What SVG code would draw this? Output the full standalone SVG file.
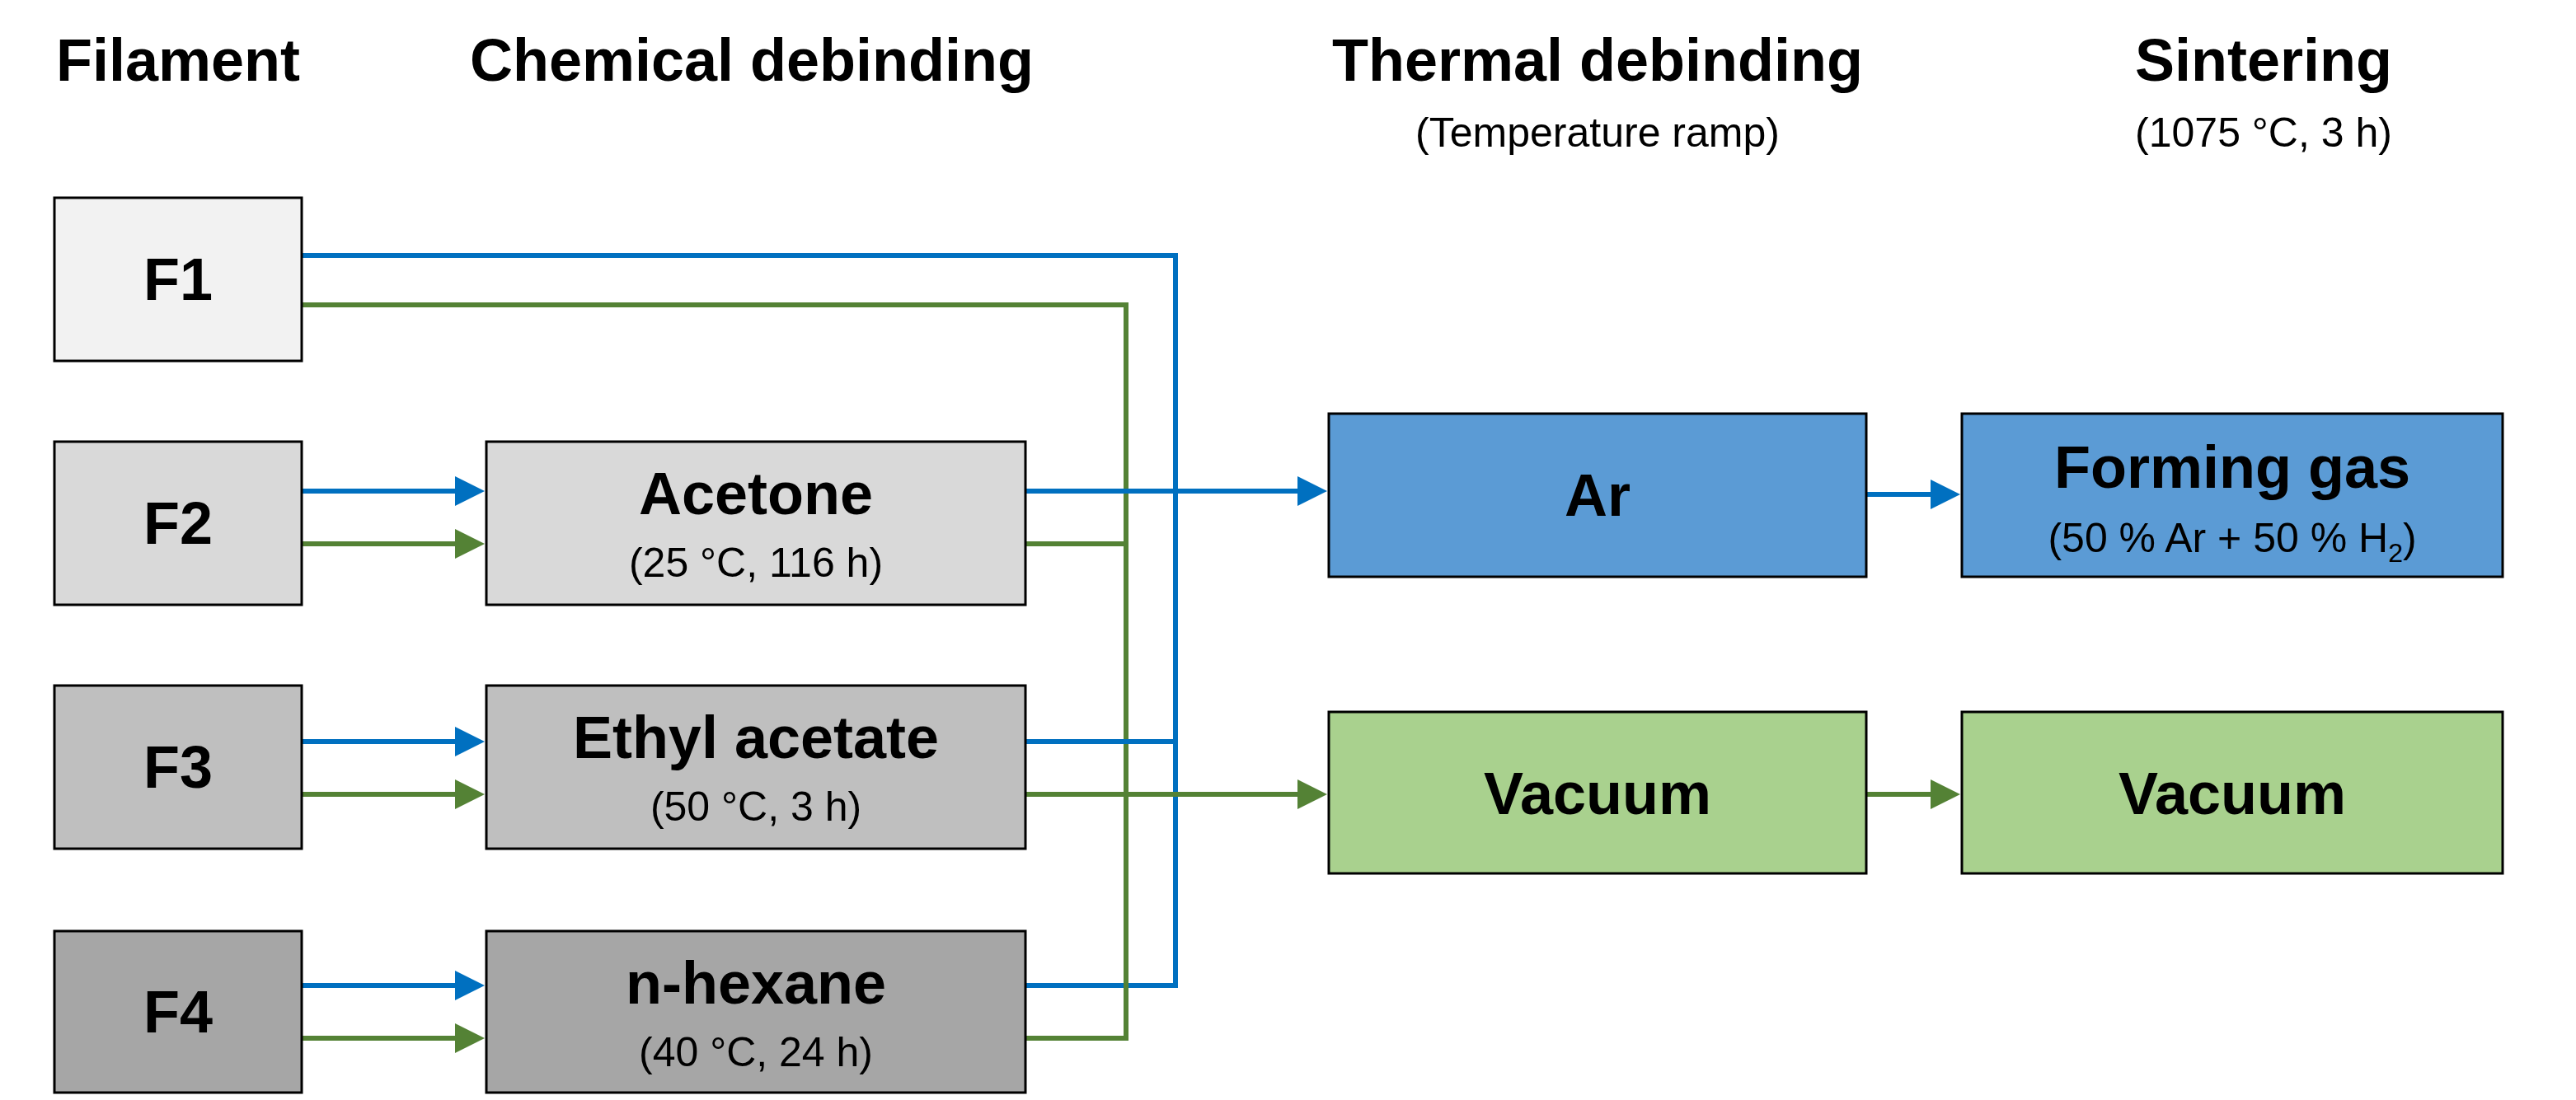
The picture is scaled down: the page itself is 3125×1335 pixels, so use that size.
<svg xmlns="http://www.w3.org/2000/svg" width="3125" height="1335" viewBox="0 0 3125 1335">
<style>
text{font-family:"Liberation Sans",Arial,sans-serif;text-anchor:middle;fill:#000}
.h{font-size:72px;font-weight:bold}
.s{font-size:50px}
.b{font-size:72px;font-weight:bold}
.box{stroke:#000;stroke-width:3}
.bl{fill:none;stroke:#0070C0;stroke-width:6}
.gr{fill:none;stroke:#548235;stroke-width:6}
</style>
<defs>
<marker id="ab" markerWidth="6" markerHeight="6" refX="5" refY="3" orient="auto" markerUnits="strokeWidth"><path d="M0,0L6,3L0,6z" fill="#0070C0"/></marker>
<marker id="ag" markerWidth="6" markerHeight="6" refX="5" refY="3" orient="auto" markerUnits="strokeWidth"><path d="M0,0L6,3L0,6z" fill="#548235"/></marker>
</defs>
<g id="headers">
<text class="h" x="216" y="98">Filament</text>
<text class="h" x="912" y="98">Chemical debinding</text>
<text class="h" x="1938" y="98">Thermal debinding</text>
<text class="s" x="1938" y="178">(Temperature ramp)</text>
<text class="h" x="2746" y="98">Sintering</text>
<text class="s" x="2746" y="178">(1075 °C, 3 h)</text>
</g>
<g id="connectors">
<path class="bl" d="M366,310H1426V1196H1244"/>
<path class="gr" d="M366,370H1366V1260H1244"/>
<path class="bl" d="M366,596H582" marker-end="url(#ab)"/>
<path class="gr" d="M366,660H582" marker-end="url(#ag)"/>
<path class="bl" d="M366,900H582" marker-end="url(#ab)"/>
<path class="gr" d="M366,964H582" marker-end="url(#ag)"/>
<path class="bl" d="M366,1196H582" marker-end="url(#ab)"/>
<path class="gr" d="M366,1260H582" marker-end="url(#ag)"/>
<path class="bl" d="M1244,596H1604" marker-end="url(#ab)"/>
<path class="gr" d="M1244,660H1366"/>
<path class="bl" d="M1244,900H1426"/>
<path class="gr" d="M1244,964H1604" marker-end="url(#ag)"/>
<path class="bl" d="M2264,600H2372" marker-end="url(#ab)"/>
<path class="gr" d="M2264,964H2372" marker-end="url(#ag)"/>
</g>
<g id="F1"><rect class="box" x="66" y="240" width="300" height="198" fill="#F2F2F2"/><text class="b" x="216" y="364">F1</text></g>
<g id="F2"><rect class="box" x="66" y="536" width="300" height="198" fill="#D9D9D9"/><text class="b" x="216" y="660">F2</text></g>
<g id="F3"><rect class="box" x="66" y="832" width="300" height="198" fill="#BFBFBF"/><text class="b" x="216" y="956">F3</text></g>
<g id="F4"><rect class="box" x="66" y="1130" width="300" height="196" fill="#A6A6A6"/><text class="b" x="216" y="1253">F4</text></g>
<g id="acetone"><rect class="box" x="590" y="536" width="654" height="198" fill="#D9D9D9"/><text class="b" x="917" y="624">Acetone</text><text class="s" x="917" y="700">(25 °C, 116 h)</text></g>
<g id="ethyl"><rect class="box" x="590" y="832" width="654" height="198" fill="#BFBFBF"/><text class="b" x="917" y="920">Ethyl acetate</text><text class="s" x="917" y="996">(50 °C, 3 h)</text></g>
<g id="hexane"><rect class="box" x="590" y="1130" width="654" height="196" fill="#A6A6A6"/><text class="b" x="917" y="1218">n-hexane</text><text class="s" x="917" y="1294">(40 °C, 24 h)</text></g>
<g id="ar"><rect class="box" x="1612" y="502" width="652" height="198" fill="#5B9BD5"/><text class="b" x="1938" y="626">Ar</text></g>
<g id="forming"><rect class="box" x="2380" y="502" width="656" height="198" fill="#5B9BD5"/><text class="b" x="2708" y="592">Forming gas</text><text class="s" x="2708" y="670">(50 % Ar + 50 % H<tspan font-size="32" dy="12">2</tspan><tspan dy="-12">)</tspan></text></g>
<g id="vac1"><rect class="box" x="1612" y="864" width="652" height="196" fill="#A9D18E"/><text class="b" x="1938" y="988">Vacuum</text></g>
<g id="vac2"><rect class="box" x="2380" y="864" width="656" height="196" fill="#A9D18E"/><text class="b" x="2708" y="988">Vacuum</text></g>
</svg>
